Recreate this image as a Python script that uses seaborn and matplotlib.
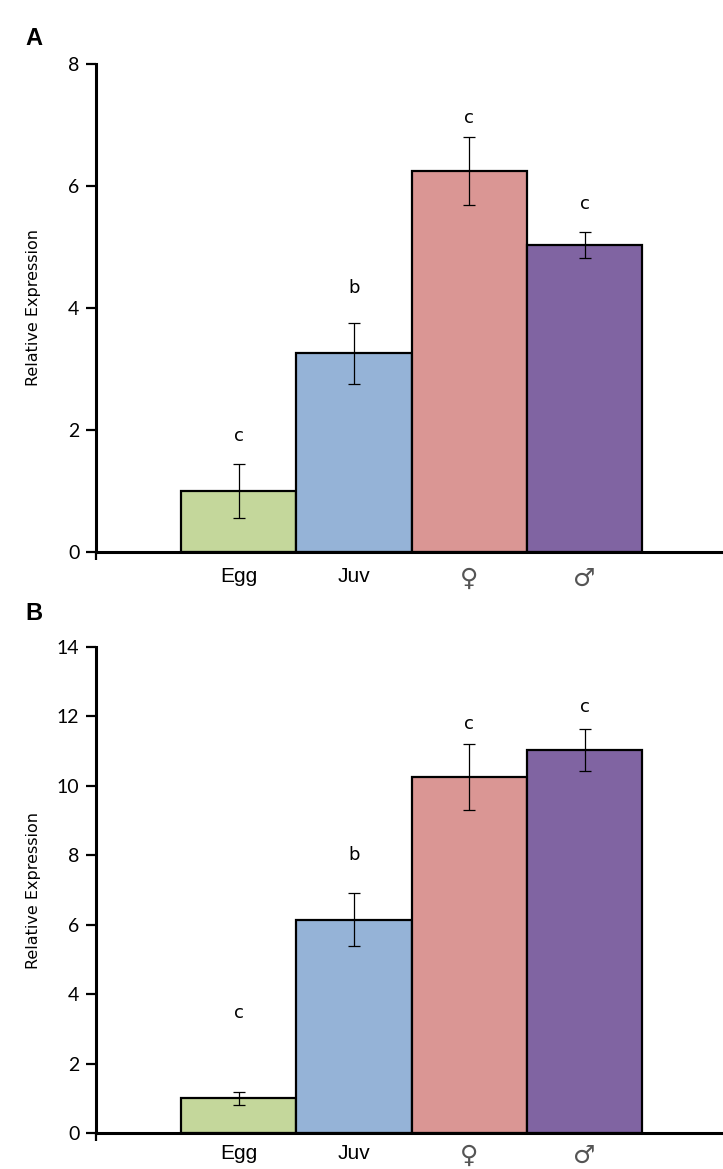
import pandas as pd
import seaborn as sns
import matplotlib.pyplot as plt

stages = ["Egg", "Juv", "\u2640", "\u2642"]
colors = ["#C4D79B", "#95B3D7", "#DA9694", "#8064A2"]

# panel A
expr_a = [1.00, 3.26, 6.24, 5.03]
err_a = [0.45, 0.50, 0.56, 0.21]
letters_a = ["c", "b", "c", "c"]

# panel B
expr_b = [1.00, 6.14, 10.26, 11.03]
err_b = [0.19, 0.76, 0.95, 0.60]
letters_b = ["c", "b", "c", "c"]

sns.set_style("white")
plt.rcParams['font.family'] = ['DejaVu Sans']
plt.rcParams['text.color'] = 'black'
plt.rcParams['xtick.color'] = 'black'
plt.rcParams['ytick.color'] = 'black'
plt.rcParams['axes.labelcolor'] = 'black'


def draw_panel(ax, values, errors, letters, letter_y, ymax, panel, xpad):
    df = pd.DataFrame({"stage": stages, "expr": values})
    sns.barplot(data=df, x="stage", y="expr", hue="stage", palette=colors,
                width=1.0, edgecolor="black", linewidth=1.6, legend=False,
                saturation=1, ax=ax)
    ax.errorbar(range(len(stages)), values, yerr=errors, fmt="none",
                ecolor="black", elinewidth=0.9, capsize=4.5, capthick=0.9)
    for i, (lab, ly) in enumerate(zip(letters, letter_y)):
        ax.text(i, ly, lab, ha="center", va="center", fontsize=13)

    ax.set_xlim(-1.236, 4.2)
    ax.set_ylim(0, ymax)
    ax.set_yticks(range(0, ymax + 1, 2))
    ax.set_xticks([-1.236], minor=True)
    ax.tick_params(axis="y", direction="out", length=7, width=1.6,
                   labelsize=14, left=True, pad=5)
    ax.tick_params(axis="x", which="major", length=0, pad=xpad)
    ax.tick_params(axis="x", which="minor", direction="out", length=6,
                   width=1.6, bottom=True)
    for t in ax.get_yticklabels():
        t.set_fontfamily("Lato")
    for t in ax.get_xticklabels():
        if t.get_text() in ("Egg", "Juv"):
            t.set_fontfamily("Liberation Sans")
            t.set_fontsize(15)
        else:
            t.set_fontfamily(["DejaVu Sans"])
            t.set_fontsize(18)
            t.set_color("#555555")
    sns.despine(ax=ax, top=True, right=True)
    for s in ["left", "bottom"]:
        ax.spines[s].set_linewidth(2.2)
        ax.spines[s].set_color("black")
    ax.set_xlabel("")
    ax.set_ylabel("Relative Expression", fontsize=11.5)
    ax.yaxis.set_label_coords(-0.088, 0.5)
    ax.text(-0.113, 1.0 + (0.052 if panel == "A" else 0.07), panel,
            transform=ax.transAxes, fontsize=17, fontweight="bold",
            fontfamily="Liberation Sans", va="center")


fig = plt.figure(figsize=(7.23, 11.69), dpi=100)
ax_a = fig.add_axes([0.1328, 0.5278, 0.8672, 0.4175])
ax_b = fig.add_axes([0.1328, 0.0308, 0.8672, 0.4157])

draw_panel(ax_a, expr_a, err_a, letters_a, [1.9, 4.33, 7.11, 5.71], 8, "A", 11)
draw_panel(ax_b, expr_b, err_b, letters_b, [3.46, 8.0, 11.79, 12.26], 14, "B", 8)

fig.savefig("out.png", dpi=100)
